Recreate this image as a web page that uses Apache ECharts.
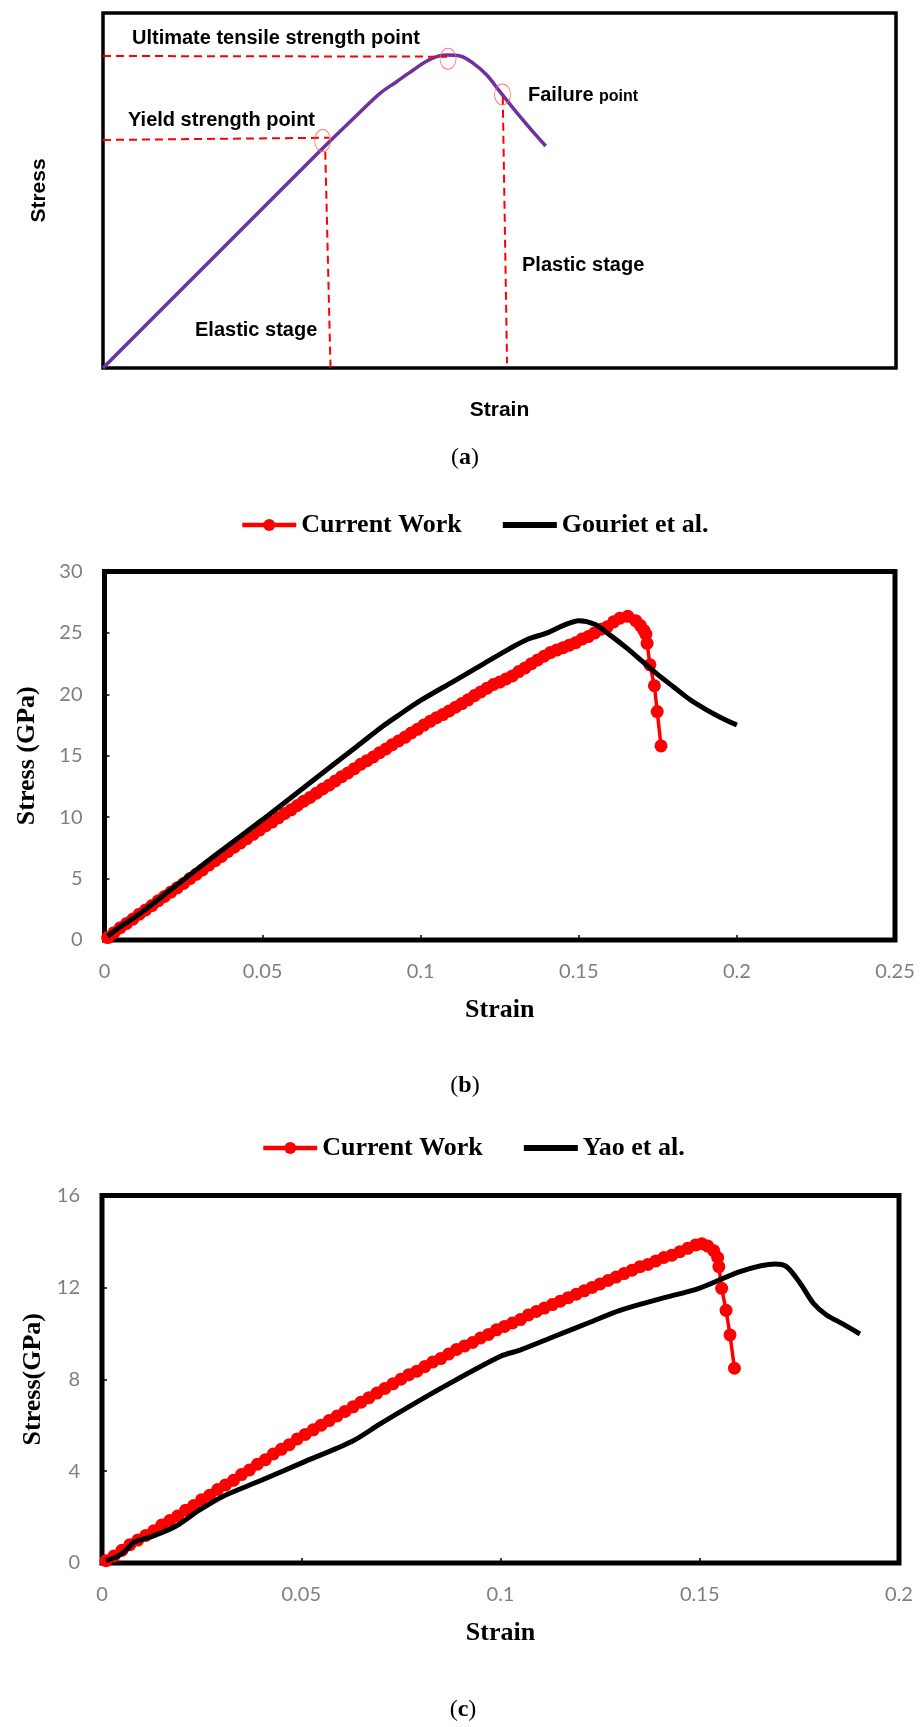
<!DOCTYPE html>
<html>
<head>
<meta charset="utf-8">
<script src="https://cdn.jsdelivr.net/npm/echarts@6/dist/echarts.min.js"></script>
<style>
  html, body { margin: 0; padding: 0; background: #ffffff; }
  #chart { width: 922px; height: 1727px; }
</style>
</head>
<body>
<div id="chart"></div>
<script>
// ---------- (a) schematic stress–strain curve (normalised units 0..1) ----------
const schematicCurve = [
  [0, 0], [0.1387, 0.3099], [0.2774, 0.6197], [0.3210, 0.7140], [0.3493, 0.7738],
  [0.3703, 0.8065], [0.3913, 0.8394], [0.4124, 0.8696], [0.4334, 0.8817], [0.4502, 0.8789],
  [0.4670, 0.8583], [0.4839, 0.8254], [0.5006, 0.7783], [0.5174, 0.7315],
  [0.5385, 0.6752], [0.5583, 0.6254]
];
const yieldPoint = [0.2770, 0.6408];
const ultimatePoint = [0.4351, 0.8710];
const failurePoint = [0.5038, 0.7704];
const ultimateGuide = [[0, 0.8789], [0.4338, 0.8770]];
const yieldGuideH = [[0, 0.6423], [0.2855, 0.6487]];
const yieldGuideV = [[0.2803, 0.6093], [0.2869, 0]];
const failureGuideV = [[0.5041, 0.7642], [0.5095, 0.0131]];

// ---------- (b) comparison with Gouriet et al. ----------
const strainTicksB = [0, 0.25, 0.05];   // min, max, step
const stressTicksB = [0, 30, 5];
const currentWorkB = [
  [0.001,0.2],[0.003,0.6],[0.005,1.0],[0.007,1.35],[0.009,1.7],[0.011,2.1],[0.013,2.45],
  [0.015,2.8],[0.017,3.2],[0.019,3.55],[0.021,3.9],[0.023,4.25],[0.025,4.6],[0.027,5.0],
  [0.029,5.35],[0.031,5.7],[0.033,6.1],[0.035,6.45],[0.037,6.8],[0.039,7.2],[0.041,7.55],
  [0.043,7.9],[0.045,8.25],[0.047,8.6],[0.049,8.95],[0.051,9.3],[0.053,9.6],[0.055,9.95],
  [0.057,10.3],[0.059,10.6],[0.061,10.95],[0.063,11.3],[0.065,11.6],[0.067,11.95],
  [0.069,12.3],[0.071,12.6],[0.073,12.95],[0.075,13.3],[0.077,13.6],[0.079,13.95],
  [0.081,14.3],[0.083,14.6],[0.085,14.9],[0.087,15.25],[0.089,15.55],[0.091,15.9],
  [0.093,16.2],[0.095,16.5],[0.097,16.85],[0.099,17.15],[0.101,17.5],[0.103,17.8],
  [0.105,18.1],[0.107,18.35],[0.109,18.65],[0.111,18.95],[0.113,19.25],[0.115,19.55],
  [0.117,19.9],[0.119,20.2],[0.121,20.5],[0.123,20.8],[0.125,21.0],[0.127,21.25],
  [0.129,21.5],[0.131,21.85],[0.133,22.15],[0.135,22.5],[0.137,22.8],[0.139,23.1],
  [0.141,23.4],[0.143,23.6],[0.145,23.8],[0.147,24.0],[0.149,24.2],[0.151,24.5],
  [0.153,24.7],[0.155,25.0],[0.157,25.3],[0.159,25.5],[0.161,25.9],[0.163,26.2],
  [0.1655,26.35],[0.168,26.0],[0.1695,25.6],[0.1706,25.2],[0.1712,24.9],[0.1716,24.15],
  [0.1725,22.4],[0.1739,20.7],[0.1748,18.6],[0.176,15.8]
];
const gourietEtAl = [
  [0.001,0.3],[0.004,0.9],[0.007,1.4],[0.012,2.3],[0.02,3.9],[0.035,6.9],[0.05,9.8],
  [0.065,12.8],[0.08,15.8],[0.088,17.4],[0.093,18.3],[0.1,19.5],[0.11,21.0],[0.12,22.5],
  [0.128,23.7],[0.134,24.5],[0.14,25.0],[0.145,25.6],[0.15,26.0],[0.155,25.7],[0.16,24.8],
  [0.165,23.8],[0.17,22.7],[0.175,21.6],[0.18,20.6],[0.185,19.6],[0.19,18.8],[0.195,18.1],
  [0.2,17.5]
];

// ---------- (c) comparison with Yao et al. ----------
const strainTicksC = [0, 0.2, 0.05];
const stressTicksC = [0, 16, 4];
const currentWorkC = [
  [0.001,0.1],[0.003,0.3],[0.005,0.55],[0.007,0.8],[0.009,1.0],[0.011,1.2],[0.013,1.4],
  [0.015,1.65],[0.017,1.85],[0.019,2.05],[0.021,2.3],[0.023,2.5],[0.025,2.75],[0.027,2.95],
  [0.029,3.2],[0.031,3.4],[0.033,3.6],[0.035,3.85],[0.037,4.05],[0.039,4.3],[0.041,4.5],
  [0.043,4.75],[0.045,4.95],[0.047,5.15],[0.049,5.4],[0.051,5.6],[0.053,5.8],[0.055,6.0],
  [0.057,6.2],[0.059,6.4],[0.061,6.6],[0.063,6.8],[0.065,7.0],[0.067,7.2],[0.069,7.4],
  [0.071,7.6],[0.073,7.8],[0.075,8.0],[0.077,8.2],[0.079,8.35],[0.081,8.55],[0.083,8.75],
  [0.085,8.9],[0.087,9.1],[0.089,9.3],[0.091,9.45],[0.093,9.6],[0.095,9.8],[0.097,9.95],
  [0.099,10.15],[0.101,10.3],[0.103,10.45],[0.105,10.6],[0.107,10.8],[0.109,10.95],
  [0.111,11.1],[0.113,11.25],[0.115,11.4],[0.117,11.55],[0.119,11.7],[0.121,11.85],
  [0.123,12.0],[0.125,12.15],[0.127,12.3],[0.129,12.45],[0.131,12.6],[0.133,12.75],
  [0.135,12.9],[0.137,13.0],[0.139,13.15],[0.141,13.3],[0.143,13.4],[0.145,13.55],
  [0.147,13.7],[0.149,13.85],[0.1505,13.9],[0.152,13.8],[0.1535,13.6],[0.1545,13.3],
  [0.1548,12.9],[0.1555,11.96],[0.1566,11.0],[0.1576,9.93],[0.1587,8.48]
];
const yaoEtAl = [
  [0.001,0.1],[0.004,0.3],[0.006,0.55],[0.008,0.9],[0.0126,1.16],[0.0185,1.6],[0.0244,2.3],
  [0.0303,2.9],[0.04,3.6],[0.05,4.35],[0.0628,5.3],[0.0702,6.1],[0.085,7.6],[0.1,9.0],
  [0.1049,9.27],[0.1133,9.85],[0.122,10.45],[0.13,11.0],[0.14,11.5],[0.15,11.97],
  [0.1603,12.7],[0.1689,13.02],[0.1718,12.9],[0.1752,12.18],[0.1785,11.31],[0.1818,10.8],
  [0.186,10.4],[0.1902,9.97]
];

const seriesNames = ['Current Work', 'Gouriet et al.', 'Yao et al.'];
const captions = ['a', 'b', 'c'];

// ---------- shared styles ----------
const SANS = 'Liberation Sans, Arial, sans-serif';
const SERIF = 'Liberation Serif, Times New Roman, serif';
const TICK_FONT = 'Lato, Carlito, sans-serif';
const RED = '#FF0000';
const PURPLE = '#7030A0';

function dataAxis(gridIndex, ticks, name, nameGap) {
  return {
    gridIndex: gridIndex, type: 'value',
    min: ticks[0], max: ticks[1], interval: ticks[2],
    axisLine: { show: false },
    axisTick: { show: true, inside: true, length: 5, lineStyle: { color: '#000', width: 1.5 } },
    axisLabel: { color: '#7f7f7f', fontFamily: TICK_FONT, fontSize: 20, margin: 22 },
    splitLine: { show: false },
    name: name, nameLocation: 'middle', nameGap: nameGap,
    nameTextStyle: { fontFamily: SERIF, fontWeight: 'bold', fontSize: 26, color: '#000' }
  };
}

function schematicAxis(name, nameGap) {
  return {
    gridIndex: 0, type: 'value', min: 0, max: 1,
    axisLine: { show: false }, axisTick: { show: false },
    axisLabel: { show: false }, splitLine: { show: false },
    name: name, nameLocation: 'middle', nameGap: nameGap,
    nameTextStyle: { fontFamily: SANS, fontWeight: 'bold', fontSize: 21, color: '#000' }
  };
}

function guide(data) {
  return {
    type: 'line', xAxisIndex: 0, yAxisIndex: 0, data: data, symbol: 'none',
    lineStyle: { color: RED, width: 2, type: [8, 5] }, z: 3, silent: true
  };
}

function marker(point, size) {
  return {
    type: 'scatter', xAxisIndex: 0, yAxisIndex: 0, data: [point],
    symbol: 'circle', symbolSize: size,
    itemStyle: { color: 'rgba(0,0,0,0)', borderColor: '#ff5a5a', borderWidth: 1 }, z: 4, silent: true
  };
}

function currentWork(axisIndex, data) {
  return {
    name: seriesNames[0], type: 'line', xAxisIndex: axisIndex, yAxisIndex: axisIndex,
    data: data, symbol: 'circle', symbolSize: 13, showSymbol: true, showAllSymbol: true,
    itemStyle: { color: RED }, lineStyle: { color: RED, width: 3.5 }, z: 2
  };
}

function reference(axisIndex, name, data) {
  return {
    name: name, type: 'line', xAxisIndex: axisIndex, yAxisIndex: axisIndex,
    data: data, symbol: 'none', smooth: 0.3,
    itemStyle: { color: '#000' }, lineStyle: { color: '#000', width: 5 }, z: 5
  };
}

function legend(left, top, names) {
  return {
    left: left, top: top, orient: 'horizontal',
    itemWidth: 54, itemHeight: 15, itemGap: 38,
    selectedMode: false,
    textStyle: { fontFamily: SERIF, fontWeight: 'bold', fontSize: 26, color: '#000', lineHeight: 30 },
    data: [
      { name: names[0], lineStyle: { width: 4.5, color: RED } },
      { name: names[1], itemStyle: { opacity: 0 }, lineStyle: { width: 6, color: '#000' } }
    ]
  };
}

function caption(letter, cx, cy) {
  return {
    type: 'text', x: cx, y: cy,
    style: {
      text: '{p|(}{l|' + letter + '}{p|)}',
      textAlign: 'center', textVerticalAlign: 'middle',
      rich: {
        p: { fontFamily: SERIF, fontSize: 24, fill: '#000' },
        l: { fontFamily: SERIF, fontSize: 24, fontWeight: 'bold', fill: '#000' }
      }
    }
  };
}

function note(text, x, y, size) {
  return {
    type: 'text', x: x, y: y,
    style: { text: text, font: 'bold ' + (size || 20) + 'px ' + SANS, fill: '#000', textVerticalAlign: 'bottom' }
  };
}

const chart = echarts.init(document.getElementById('chart'), null, { renderer: 'canvas' });

chart.setOption({
  animation: false,
  backgroundColor: '#ffffff',
  grid: [
    { left: 103, top: 13, width: 793, height: 355, show: true, borderColor: '#000', borderWidth: 3.5,
      backgroundColor: 'transparent', containLabel: false, outerBoundsMode: 'none' },
    { left: 104.5, top: 571.5, width: 790.5, height: 368.5, show: true, borderColor: '#000', borderWidth: 5,
      backgroundColor: 'transparent', containLabel: false, outerBoundsMode: 'none' },
    { left: 102, top: 1195.5, width: 797, height: 367.5, show: true, borderColor: '#000', borderWidth: 5,
      backgroundColor: 'transparent', containLabel: false, outerBoundsMode: 'none' }
  ],
  xAxis: [
    schematicAxis('Strain', 32),
    dataAxis(1, strainTicksB, 'Strain', 57),
    dataAxis(2, strainTicksC, 'Strain', 57)
  ],
  yAxis: [
    schematicAxis('Stress', 53),
    dataAxis(1, stressTicksB, 'Stress (GPa)', 64),
    dataAxis(2, stressTicksC, 'Stress(GPa)', 53)
  ],
  legend: [
    legend(235, 505, [seriesNames[0], seriesNames[1]]),
    legend(256, 1128, [seriesNames[0], seriesNames[2]])
  ],
  graphic: [
    note('Ultimate tensile strength point', 132, 48),
    note('Yield strength point', 128, 130),
    note('Failure', 528, 105),
    note('point', 599, 105, 16),
    note('Elastic stage', 195, 340),
    note('Plastic stage', 522, 275),
    caption(captions[0], 465, 458),
    caption(captions[1], 465, 1086),
    caption(captions[2], 463, 1710)
  ],
  series: [
    guide(ultimateGuide),
    guide(yieldGuideH),
    guide(yieldGuideV),
    guide(failureGuideV),
    {
      type: 'line', xAxisIndex: 0, yAxisIndex: 0, data: schematicCurve, symbol: 'none',
      smooth: 0.35,
      lineStyle: { color: PURPLE, width: 3.5 }, z: 2, silent: true
    },
    marker(yieldPoint, [16, 22]),
    marker(ultimatePoint, [16, 21]),
    marker(failurePoint, [16, 21]),
    currentWork(1, currentWorkB),
    reference(1, seriesNames[1], gourietEtAl),
    currentWork(2, currentWorkC),
    reference(2, seriesNames[2], yaoEtAl)
  ]
});
</script>
</body>
</html>
